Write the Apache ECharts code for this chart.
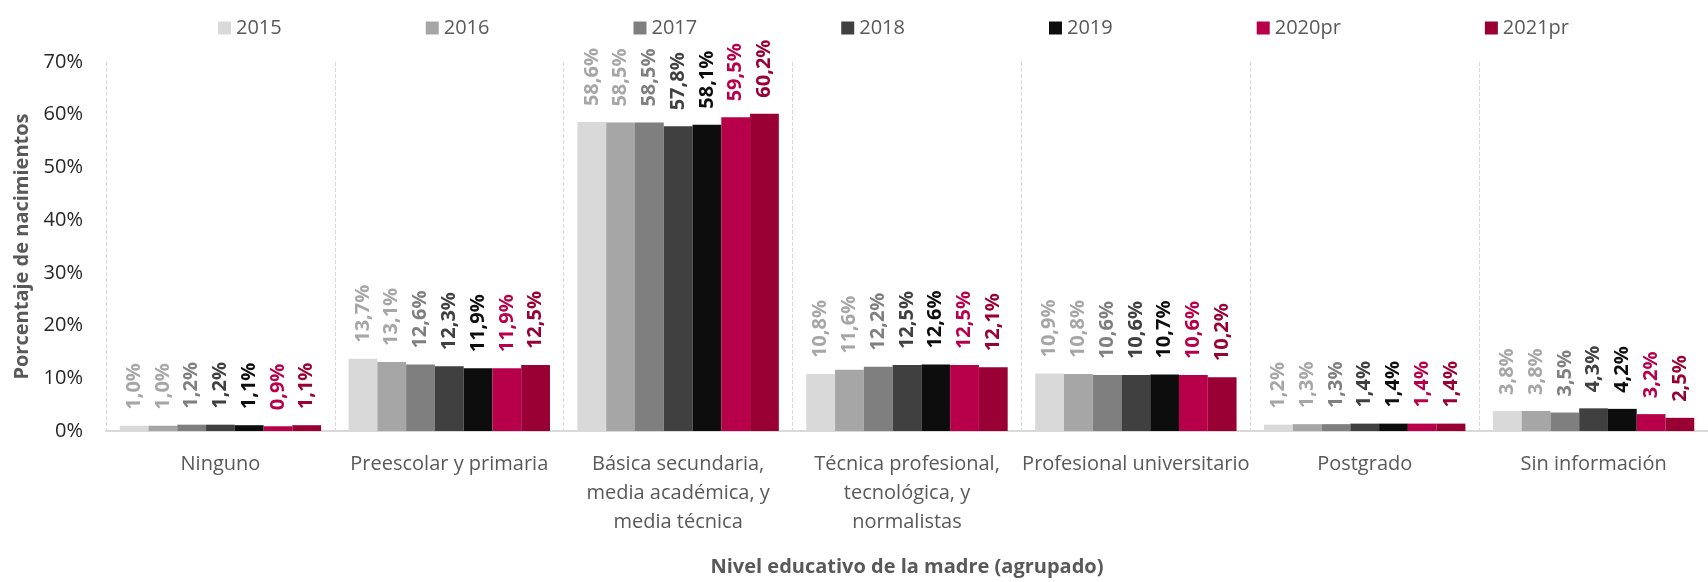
<!DOCTYPE html>
<html>
<head>
<meta charset="utf-8">
<script src="https://cdn.jsdelivr.net/npm/echarts/dist/echarts.min.js"></script>
<style>
  html, body { margin: 0; padding: 0; background: #fff; }
  #main { width: 1708px; height: 582px; }
</style>
</head>
<body>
<div id="main"></div>
<script>
// categorias del eje x
var categories = [
  'Ninguno',
  'Preescolar y primaria',
  'Básica secundaria,\nmedia académica, y\nmedia técnica',
  'Técnica profesional,\ntecnológica, y\nnormalistas',
  'Profesional universitario',
  'Postgrado',
  'Sin información'
];
var years = ['2015', '2016', '2017', '2018', '2019', '2020pr', '2021pr'];

// porcentajes por año (mismo orden que categories)
var v2015 = [1.0, 13.7, 58.6, 10.8, 10.9, 1.2, 3.8];
var v2016 = [1.0, 13.1, 58.5, 11.6, 10.8, 1.3, 3.8];
var v2017 = [1.2, 12.6, 58.5, 12.2, 10.6, 1.3, 3.5];
var v2018 = [1.2, 12.3, 57.8, 12.5, 10.6, 1.4, 4.3];
var v2019 = [1.1, 11.9, 58.1, 12.6, 10.7, 1.4, 4.2];
var v2020 = [0.9, 11.9, 59.5, 12.5, 10.6, 1.4, 3.2];
var v2021 = [1.1, 12.5, 60.2, 12.1, 10.2, 1.4, 2.5];

var yTicks = [0, 10, 20, 30, 40, 50, 60, 70];

var barColors = ['#d9d9d9', '#a6a6a6', '#7f7f7f', '#404040', '#0d0d0d', '#b8004a', '#990033'];
var labelColors = ['#a6a6a6', '#a6a6a6', '#7f7f7f', '#404040', '#0d0d0d', '#b8004a', '#990033'];
var allValues = [v2015, v2016, v2017, v2018, v2019, v2020, v2021];

var font = '"Open Sans", "Noto Sans", sans-serif';

var series = years.map(function (y, i) {
  return {
    name: y,
    type: 'bar',
    data: allValues[i],
    barGap: '0%',
    barCategoryGap: '12%',
    itemStyle: { color: barColors[i] },
    label: {
      show: true,
      position: 'top',
      rotate: 90,
      align: 'left',
      verticalAlign: 'middle',
      distance: 16,
      fontFamily: font,
      fontSize: 20,
      fontWeight: 'bold',
      color: labelColors[i],
      formatter: function (p) {
        // coma decimal
        return p.value.toFixed(1).replace('.', ',') + '%';
      }
    }
  };
});

var myChart = echarts.init(document.getElementById('main'));
var option = {
  animation: false,
  color: barColors,
  legend: {
    data: years,
    left: 213,
    top: 13,
    itemWidth: 13,
    itemHeight: 13,
    itemGap: 144,
    icon: 'rect',
    textStyle: { fontFamily: font, fontSize: 20, color: '#595959' }
  },
  grid: {
    left: 106,
    right: -8,
    top: 62,
    bottom: 149,
    containLabel: false
  },
  xAxis: {
    type: 'category',
    data: categories,
    name: 'Nivel educativo de la madre (agrupado)',
    nameLocation: 'middle',
    nameGap: 126,
    nameTextStyle: { fontFamily: font, fontSize: 20, fontWeight: 'bold', color: '#595959' },
    axisLine: { lineStyle: { color: '#d9d9d9', width: 2 } },
    axisTick: { show: false },
    axisLabel: {
      interval: 0,
      margin: 19,
      fontFamily: font,
      fontSize: 20,
      lineHeight: 29,
      color: '#595959'
    },
    splitLine: {
      show: true,
      interval: 0,
      lineStyle: { color: '#d9d9d9', type: 'dashed', width: 1 }
    }
  },
  yAxis: {
    type: 'value',
    min: yTicks[0],
    max: yTicks[yTicks.length - 1],
    interval: 10,
    name: 'Porcentaje de nacimientos',
    nameLocation: 'middle',
    nameGap: 73,
    nameTextStyle: { fontFamily: font, fontSize: 20, fontWeight: 'bold', color: '#595959' },
    axisLine: { show: false },
    axisTick: { show: false },
    splitLine: { show: false },
    axisLabel: {
      margin: 23,
      fontFamily: font,
      fontSize: 20,
      color: '#262626',
      formatter: '{value}%'
    }
  },
  series: series
};

option && myChart.setOption(option);
</script>
</body>
</html>
